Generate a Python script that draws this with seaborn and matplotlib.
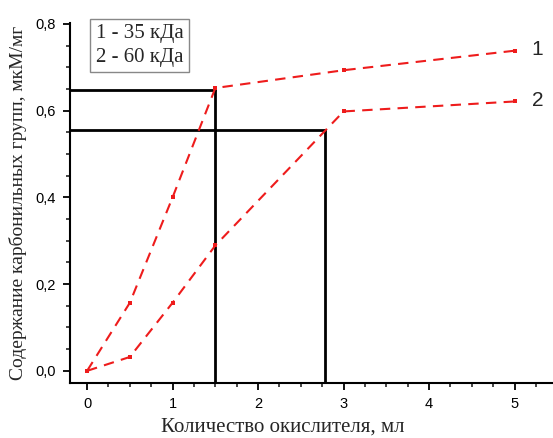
import matplotlib
matplotlib.use('Agg')
import matplotlib.pyplot as plt
from matplotlib.ticker import MultipleLocator, FuncFormatter
import seaborn as sns
import pandas as pd

# данные
x_ml = [0, 0.5, 1, 1.5, 3, 5]
y_35kda = [0.0, 0.157, 0.400, 0.652, 0.693, 0.738]
y_60kda = [0.0, 0.032, 0.157, 0.289, 0.598, 0.621]
series_names = ['1', '2']
legend_lines = ['1 - 35 кДа', '2 - 60 кДа']

# опорные линии (x, y)
guide_x = [1.5, 2.78]
guide_y = [0.647, 0.555]

df = pd.concat([
    pd.DataFrame({'x': x_ml, 'y': y_35kda, 'series': series_names[0]}),
    pd.DataFrame({'x': x_ml, 'y': y_60kda, 'series': series_names[1]}),
])

sns.set_style('ticks')
plt.rcParams['font.family'] = ['Liberation Sans', 'DejaVu Sans']

fig = plt.figure(figsize=(5.53, 4.38), dpi=100)
ax = fig.add_axes([0.1266, 0.1256, 0.8734, 0.822])

xmin, xmax = -0.2, 5.45
ymin, ymax = -0.028, 0.802

for gx, gy in zip(guide_x, guide_y):
    ax.plot([xmin, gx], [gy, gy], color='black', lw=2, zorder=2)
    ax.plot([gx, gx], [ymin, gy], color='black', lw=2, zorder=2)

sns.lineplot(
    data=df, x='x', y='y', hue='series', palette=['#ee1c1c', '#ee1c1c'],
    linestyle=(0, (5, 3.5)), linewidth=1.5, marker='s', markersize=3.5,
    markeredgewidth=0, legend=False, ax=ax, zorder=3,
)

for name, yy in zip(series_names, [y_35kda, y_60kda]):
    ax.text(5.2, yy[-1] + 0.003, name, fontsize=15, va='center', ha='left')

ax.text(0.1, 0.75, '\n'.join(legend_lines), fontsize=15, va='center', ha='left',
        family=['Liberation Serif'], linespacing=1.35,
        bbox=dict(boxstyle='square,pad=0.25', fc='white', ec='#888888', lw=1))

ax.set_xlim(xmin, xmax)
ax.set_ylim(ymin, ymax)
ax.xaxis.set_major_locator(MultipleLocator(1))
ax.xaxis.set_minor_locator(MultipleLocator(0.25))
ax.yaxis.set_major_locator(MultipleLocator(0.2))
ax.yaxis.set_minor_locator(MultipleLocator(0.05))
ax.yaxis.set_major_formatter(FuncFormatter(lambda v, p: f'{v:.1f}'.replace('.', ',')))
ax.tick_params(which='major', length=5, width=1.3, labelsize=10.5, pad=5, colors='black')
ax.tick_params(which='minor', length=3, width=1.2)

sns.despine(ax=ax)
for s in ['left', 'bottom']:
    ax.spines[s].set_linewidth(1.5)
    ax.spines[s].set_color('black')

ax.set_xlabel('Количество окислителя, мл', fontsize=15, family=['Liberation Serif'], labelpad=6)
ax.xaxis.set_label_coords(0.44, -0.095)
ax.set_ylabel('Содержание карбонильных групп, мкМ/мг', fontsize=14, family=['Liberation Serif'], labelpad=6)

fig.savefig('out.png', dpi=100, facecolor='white')
plt.close(fig)
